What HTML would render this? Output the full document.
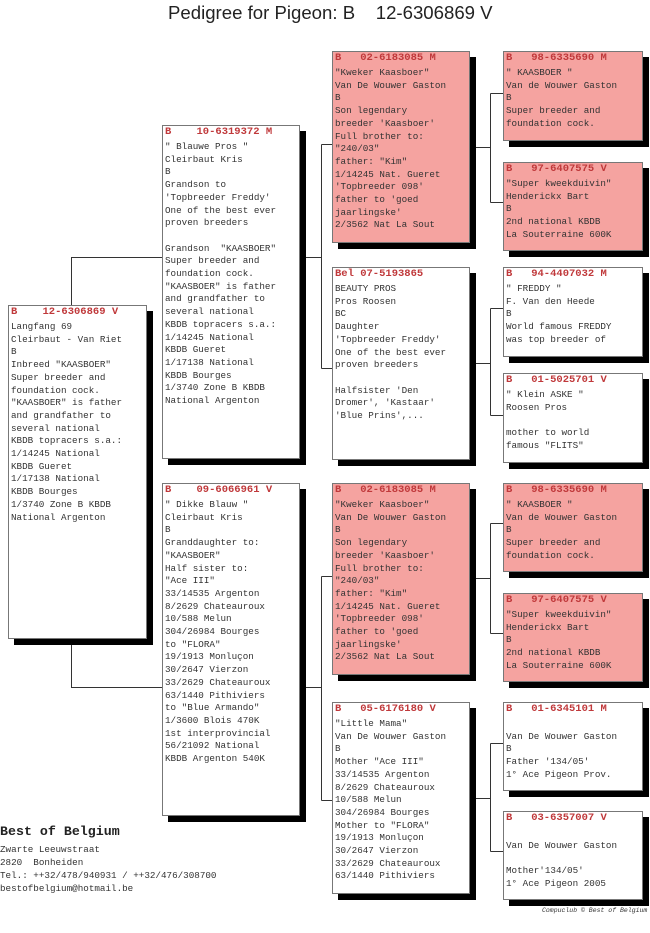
<!DOCTYPE html>
<html><head><meta charset="utf-8"><style>
body{margin:0;width:650px;height:933px;background:#fff;position:relative;overflow:hidden;font-family:"Liberation Mono",monospace;}
.title{position:absolute;left:168px;top:1px;font-family:"Liberation Sans",sans-serif;font-size:18.6px;line-height:24px;color:#222;white-space:pre;}
.b{position:absolute;background:#fff;border:1px solid #777;box-shadow:6px 6px 0 #000;box-sizing:border-box;}
.p{background:#f5a3a0;}
.h{position:absolute;left:2px;top:0;font-size:10.5px;font-weight:bold;line-height:12px;color:#c0393b;white-space:pre;}
.x{position:absolute;left:2px;top:15px;font-size:9.25px;line-height:12.7px;color:#333;white-space:pre;}
svg{position:absolute;left:0;top:0;}
.f{position:absolute;left:0;white-space:pre;color:#333;font-size:9.25px;line-height:13px;}
</style></head><body>
<div class="title">Pedigree for Pigeon: B    12-6306869 V</div>
<svg width="650" height="933"><g stroke="#333" stroke-width="1" fill="none" shape-rendering="crispEdges">
<path d="M71.5 305V257.5H162M71.5 638V687.5H162"/>
<path d="M306 257.5H321.5M321.5 144.5V368.5M321.5 144.5H332M321.5 368.5H332"/>
<path d="M306 687.5H321.5M321.5 576.5V800.5M321.5 576.5H332M321.5 800.5H332"/>
<path d="M476 147.5H490.5M490.5 93.5V202.5M490.5 93.5H503M490.5 202.5H503"/>
<path d="M465 363.5H490.5M490.5 308.5V415.5M490.5 308.5H503M490.5 415.5H503"/>
<path d="M476 578.5H490.5M490.5 523.5V633.5M490.5 523.5H503M490.5 633.5H503"/>
<path d="M465 798.5H490.5M490.5 743.5V851.5M490.5 743.5H503M490.5 851.5H503"/>
</g></svg>

<div class="b" style="left:8px;top:305px;width:139px;height:334px"><div class="h">B    12-6306869 V</div><div class="x">Langfang 69
Cleirbaut - Van Riet
B
Inbreed "KAASBOER"
Super breeder and
foundation cock.
"KAASBOER" is father
and grandfather to
several national
KBDB topracers s.a.:
1/14245 National
KBDB Gueret
1/17138 National
KBDB Bourges
1/3740 Zone B KBDB
National Argenton</div></div>

<div class="b" style="left:162px;top:125px;width:138px;height:334px"><div class="h">B    10-6319372 M</div><div class="x">" Blauwe Pros "
Cleirbaut Kris
B
Grandson to
'Topbreeder Freddy'
One of the best ever
proven breeders

Grandson  "KAASBOER"
Super breeder and
foundation cock.
"KAASBOER" is father
and grandfather to
several national
KBDB topracers s.a.:
1/14245 National
KBDB Gueret
1/17138 National
KBDB Bourges
1/3740 Zone B KBDB
National Argenton</div></div>

<div class="b" style="left:162px;top:483px;width:138px;height:333px"><div class="h">B    09-6066961 V</div><div class="x">" Dikke Blauw "
Cleirbaut Kris
B
Granddaughter to:
"KAASBOER"
Half sister to:
"Ace III"
33/14535 Argenton
8/2629 Chateauroux
10/588 Melun
304/26984 Bourges
to "FLORA"
19/1913 Monluçon
30/2647 Vierzon
33/2629 Chateauroux
63/1440 Pithiviers
to "Blue Armando"
1/3600 Blois 470K
1st interprovincial
56/21092 National
KBDB Argenton 540K</div></div>

<div class="b p" style="left:332px;top:51px;width:138px;height:192px"><div class="h">B   02-6183085 M</div><div class="x">"Kweker Kaasboer"
Van De Wouwer Gaston
B
Son legendary
breeder 'Kaasboer'
Full brother to:
"240/03"
father: "Kim"
1/14245 Nat. Gueret
'Topbreeder 098'
father to 'goed
jaarlingske'
2/3562 Nat La Sout</div></div>

<div class="b" style="left:332px;top:267px;width:138px;height:193px"><div class="h">Bel 07-5193865</div><div class="x">BEAUTY PROS
Pros Roosen
BC
Daughter
'Topbreeder Freddy'
One of the best ever
proven breeders

Halfsister 'Den
Dromer', 'Kastaar'
'Blue Prins',...</div></div>

<div class="b p" style="left:332px;top:483px;width:138px;height:192px"><div class="h">B   02-6183085 M</div><div class="x">"Kweker Kaasboer"
Van De Wouwer Gaston
B
Son legendary
breeder 'Kaasboer'
Full brother to:
"240/03"
father: "Kim"
1/14245 Nat. Gueret
'Topbreeder 098'
father to 'goed
jaarlingske'
2/3562 Nat La Sout</div></div>

<div class="b" style="left:332px;top:702px;width:138px;height:192px"><div class="h">B   05-6176180 V</div><div class="x">"Little Mama"
Van De Wouwer Gaston
B
Mother "Ace III"
33/14535 Argenton
8/2629 Chateauroux
10/588 Melun
304/26984 Bourges
Mother to "FLORA"
19/1913 Monluçon
30/2647 Vierzon
33/2629 Chateauroux
63/1440 Pithiviers</div></div>

<div class="b p" style="left:503px;top:51px;width:140px;height:90px"><div class="h">B   98-6335690 M</div><div class="x">" KAASBOER "
Van de Wouwer Gaston
B
Super breeder and
foundation cock.</div></div>

<div class="b p" style="left:503px;top:162px;width:140px;height:89px"><div class="h">B   97-6407575 V</div><div class="x">"Super kweekduivin"
Henderickx Bart
B
2nd national KBDB
La Souterraine 600K</div></div>

<div class="b" style="left:503px;top:267px;width:140px;height:90px"><div class="h">B   94-4407032 M</div><div class="x">" FREDDY "
F. Van den Heede
B
World famous FREDDY
was top breeder of</div></div>

<div class="b" style="left:503px;top:373px;width:140px;height:90px"><div class="h">B   01-5025701 V</div><div class="x">" Klein ASKE "
Roosen Pros

mother to world
famous "FLITS"</div></div>

<div class="b p" style="left:503px;top:483px;width:140px;height:89px"><div class="h">B   98-6335690 M</div><div class="x">" KAASBOER "
Van de Wouwer Gaston
B
Super breeder and
foundation cock.</div></div>

<div class="b p" style="left:503px;top:593px;width:140px;height:89px"><div class="h">B   97-6407575 V</div><div class="x">"Super kweekduivin"
Henderickx Bart
B
2nd national KBDB
La Souterraine 600K</div></div>

<div class="b" style="left:503px;top:702px;width:140px;height:89px"><div class="h">B   01-6345101 M</div><div class="x">
Van De Wouwer Gaston
B
Father '134/05'
1° Ace Pigeon Prov.</div></div>

<div class="b" style="left:503px;top:811px;width:140px;height:89px"><div class="h">B   03-6357007 V</div><div class="x">
Van De Wouwer Gaston

Mother'134/05'
1° Ace Pigeon 2005</div></div>

<div class="f" style="top:823px;font-size:13.3px;font-weight:bold;line-height:18px;color:#222">Best of Belgium</div>
<div class="f" style="top:843px">Zwarte Leeuwstraat
2820  Bonheiden
Tel.: ++32/478/940931 / ++32/476/308700
bestofbelgium@hotmail.be</div>
<div style="position:absolute;left:542px;top:907px;font-size:6.5px;font-style:italic;color:#333;white-space:pre;">Compuclub © Best of Belgium</div>
</body></html>
